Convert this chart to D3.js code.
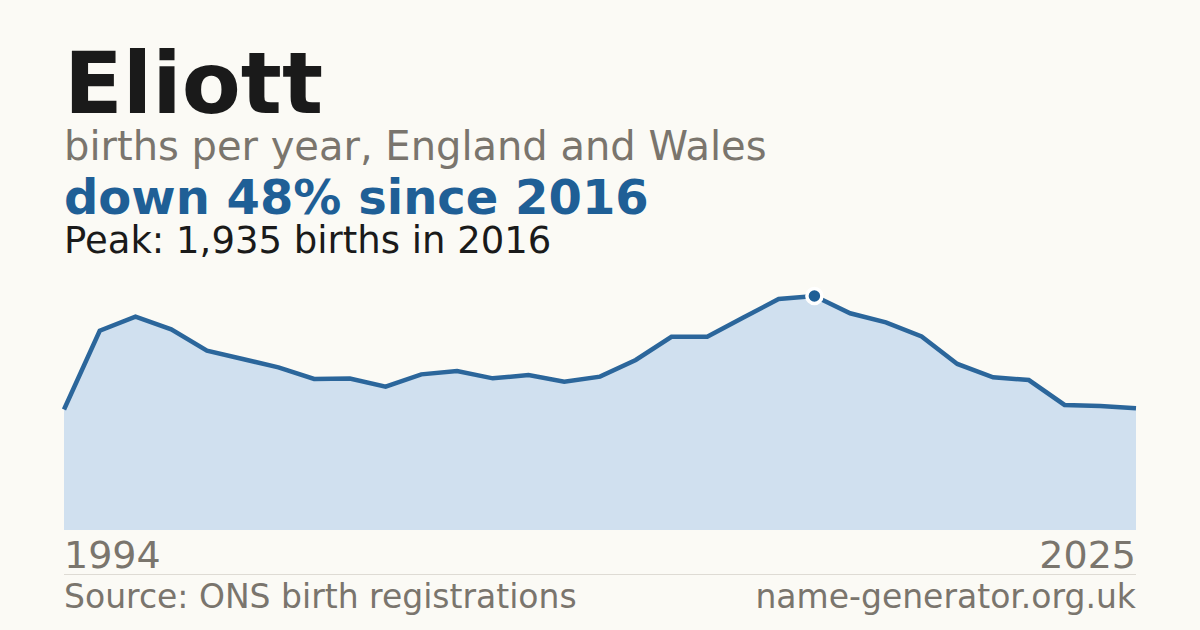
<!DOCTYPE html>
<html>
<head>
<meta charset="utf-8">
<script src="https://cdn.jsdelivr.net/npm/d3@7"></script>
<style>
  html, body { margin: 0; padding: 0; background: #fbfaf5; }
  svg { display: block; font-family: "DejaVu Sans", sans-serif; }
</style>
</head>
<body>
<svg id="chart"></svg>
<script>
const years = [
  1994, 1996, 1997, 1998, 1999, 2000, 2001, 2002, 2003, 2004, 2005,
  2006, 2007, 2008, 2009, 2010, 2011, 2012, 2013, 2014, 2015, 2016,
  2017, 2018, 2019, 2020, 2021, 2022, 2023, 2024, 2025
];
const births = [
  996, 1648, 1764, 1660, 1483, 1414, 1345, 1249, 1252, 1185, 1287,
  1315, 1254, 1282, 1226, 1268, 1406, 1598, 1598, 1756, 1910, 1935,
  1792, 1717, 1600, 1373, 1263, 1240, 1034, 1025, 1006
];
const peakYear = 2016;

const width = 1200, height = 630;
const margin = { top: 296, right: 64, bottom: 100, left: 64 };

const svg = d3.select("#chart")
  .attr("width", width)
  .attr("height", height);

svg.append("rect")
  .attr("width", width)
  .attr("height", height)
  .attr("fill", "#fbfaf5");

const data = years.map((y, i) => ({ year: y, value: births[i] }));
const peak = data.find(d => d.year === peakYear);
const last = data[data.length - 1];
const change = Math.round((peak.value - last.value) / peak.value * 100);

// header text
svg.append("text")
  .attr("x", 64).attr("y", 113)
  .attr("font-size", 86).attr("font-weight", "bold")
  .attr("fill", "#1a1a1a")
  .text("Eliott");

svg.append("text")
  .attr("x", 64).attr("y", 160)
  .attr("font-size", 40)
  .attr("fill", "#7a756d")
  .text("births per year, England and Wales");

svg.append("text")
  .attr("x", 64).attr("y", 214)
  .attr("font-size", 48).attr("font-weight", "bold")
  .attr("fill", "#1f5f96")
  .text(`down ${change}% since ${peakYear}`);

svg.append("text")
  .attr("x", 64).attr("y", 253)
  .attr("font-size", 37)
  .attr("fill", "#1a1a1a")
  .text(`Peak: ${d3.format(",")(peak.value)} births in ${peakYear}`);

// scales
const x = d3.scalePoint()
  .domain(years)
  .range([margin.left, width - margin.right]);

const y = d3.scaleLinear()
  .domain([0, d3.max(births)])
  .range([height - margin.bottom, margin.top]);

const area = d3.area()
  .x(d => x(d.year))
  .y0(y(0))
  .y1(d => y(d.value));

const line = d3.line()
  .x(d => x(d.year))
  .y(d => y(d.value));

svg.append("path")
  .datum(data)
  .attr("d", area)
  .attr("fill", "#d0e0ef");

svg.append("path")
  .datum(data)
  .attr("d", line)
  .attr("fill", "none")
  .attr("stroke", "#2b669b")
  .attr("stroke-width", 4.5);

svg.append("circle")
  .attr("cx", x(peak.year))
  .attr("cy", y(peak.value))
  .attr("r", 7.5)
  .attr("fill", "#1f5f96")
  .attr("stroke", "#ffffff")
  .attr("stroke-width", 3.5);

// end labels
svg.append("text")
  .attr("x", x(years[0])).attr("y", 568)
  .attr("font-size", 38)
  .attr("fill", "#7a756d")
  .text(years[0]);

svg.append("text")
  .attr("x", x(last.year)).attr("y", 568)
  .attr("font-size", 38)
  .attr("text-anchor", "end")
  .attr("fill", "#7a756d")
  .text(last.year);

svg.append("line")
  .attr("x1", 64).attr("x2", width - 64)
  .attr("y1", 574.5).attr("y2", 574.5)
  .attr("stroke", "#dedbd4")
  .attr("stroke-width", 1);

// footer
svg.append("text")
  .attr("x", 64).attr("y", 608)
  .attr("font-size", 33)
  .attr("fill", "#7a756d")
  .text("Source: ONS birth registrations");

svg.append("text")
  .attr("x", width - 64).attr("y", 608)
  .attr("font-size", 33)
  .attr("text-anchor", "end")
  .attr("fill", "#7a756d")
  .text("name-generator.org.uk");
</script>
</body>
</html>
